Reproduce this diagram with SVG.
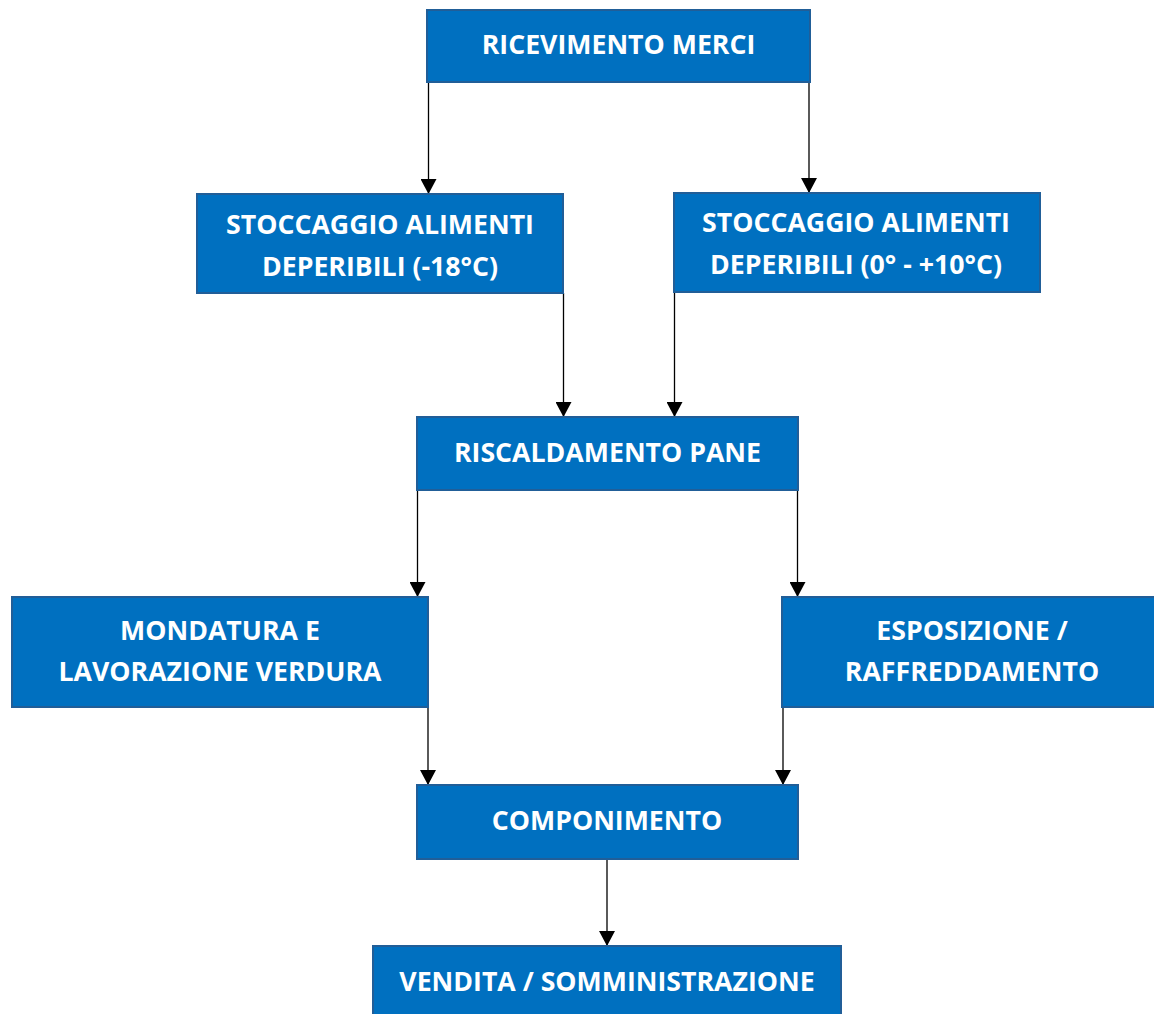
<svg xmlns="http://www.w3.org/2000/svg" width="1154" height="1014" viewBox="0 0 1154 1014">
<style>
.box{fill:#0070C0;stroke:#215E98;stroke-width:2}
.t{fill:#ffffff;font-family:"Open Sans","Liberation Sans",sans-serif;font-weight:bold;font-size:26.7px;text-anchor:middle}
.c{stroke:#000;stroke-width:1.3;fill:none;marker-end:url(#ah)}
</style>
<defs>
<marker id="ah" viewBox="0 0 15 16" refX="15" refY="8" markerWidth="15" markerHeight="16" markerUnits="userSpaceOnUse" orient="auto">
<path d="M0,0 L15,8 L0,16 Z" fill="#000"/>
</marker>
</defs>
<rect width="1154" height="1014" fill="#fff"/>
<g id="connectors">
<line class="c" x1="428.5" y1="82" x2="428.5" y2="194"/>
<line class="c" x1="809" y1="82" x2="809" y2="193"/>
<line class="c" x1="563.5" y1="293" x2="563.5" y2="417"/>
<line class="c" x1="674.5" y1="292" x2="674.5" y2="417"/>
<line class="c" x1="417.5" y1="490" x2="417.5" y2="597"/>
<line class="c" x1="797.5" y1="490" x2="797.5" y2="597"/>
<line class="c" x1="428" y1="707" x2="428" y2="785"/>
<line class="c" x1="783" y1="707" x2="783" y2="785"/>
<line class="c" x1="607" y1="859" x2="607" y2="946"/>
</g>
<g id="n1"><rect class="box" x="427" y="10" width="383" height="72"/><text class="t" x="618.5" y="54">RICEVIMENTO MERCI</text></g>
<g id="n2"><rect class="box" x="197" y="194" width="366" height="99"/><text class="t" x="380" y="234">STOCCAGGIO ALIMENTI</text><text class="t" x="380" y="276">DEPERIBILI (-18°C)</text></g>
<g id="n3"><rect class="box" x="674" y="193" width="366" height="99"/><text class="t" x="856" y="232">STOCCAGGIO ALIMENTI</text><text class="t" x="856" y="274">DEPERIBILI (0° - +10°C)</text></g>
<g id="n4"><rect class="box" x="417" y="417" width="381" height="73"/><text class="t" x="607.5" y="462">RISCALDAMENTO PANE</text></g>
<g id="n5"><rect class="box" x="12" y="597" width="416" height="110"/><text class="t" x="220" y="640">MONDATURA E</text><text class="t" x="220" y="681">LAVORAZIONE VERDURA</text></g>
<g id="n6"><rect class="box" x="782" y="597" width="382" height="110"/><text class="t" x="972" y="640">ESPOSIZIONE /</text><text class="t" x="972" y="681">RAFFREDDAMENTO</text></g>
<g id="n7"><rect class="box" x="417" y="785" width="381" height="74"/><text class="t" x="607" y="830">COMPONIMENTO</text></g>
<g id="n8"><rect class="box" x="373" y="946" width="468" height="80"/><text class="t" x="607" y="991">VENDITA / SOMMINISTRAZIONE</text></g>
</svg>
